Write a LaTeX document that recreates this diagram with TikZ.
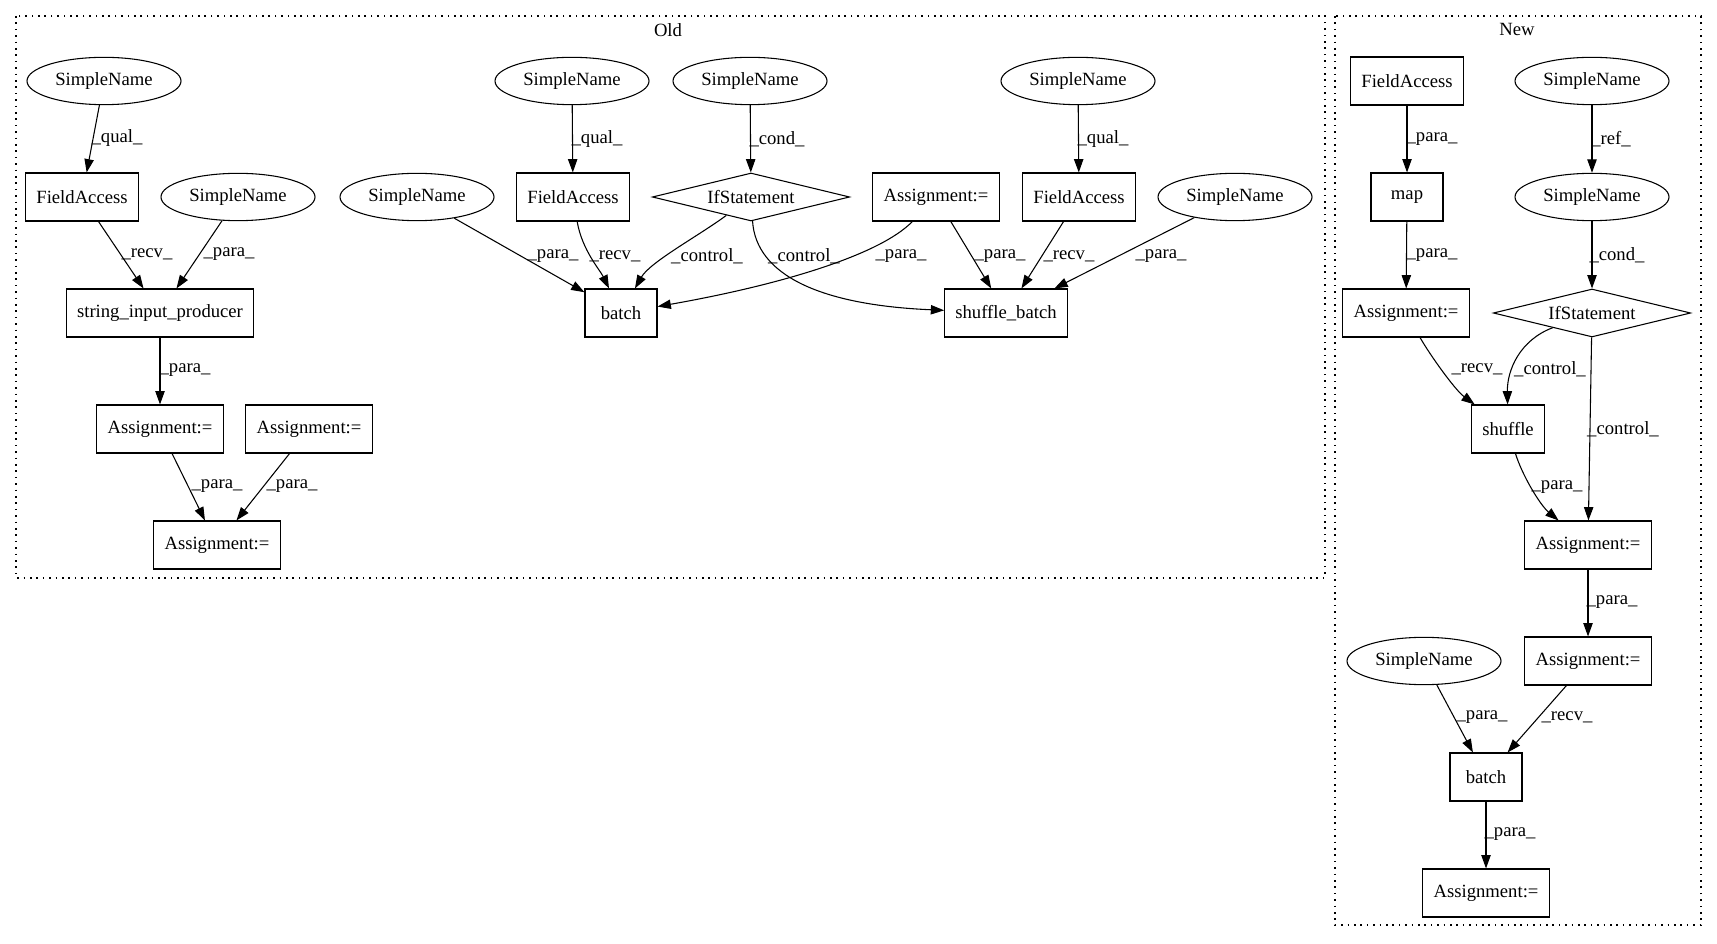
\documentclass[tikz,border=0pt]{standalone}
\usepackage{fontspec}
\setmainfont{Liberation Serif}
\usetikzlibrary{shapes.geometric,arrows.meta}

\begin{document}
\begin{tikzpicture}[x=0.75pt, y=-0.75pt, >={Triangle[length=10pt,width=7pt]},
    font=\fontsize{14}{16}\selectfont,
    sname/.style={draw, ellipse, line width=0.8pt, minimum width=115.5pt, minimum height=35.5pt, inner sep=0pt},
    abox/.style={draw, rectangle, line width=0.8pt, minimum width=54pt, minimum height=36pt, inner xsep=8pt},
    cond/.style={draw, diamond, line width=0.8pt, aspect=4, minimum width=148pt, minimum height=36pt, inner sep=0pt},
    lbl/.style={inner sep=0pt},
    cluster/.style={draw, line width=0.8pt, dash pattern=on 1.2pt off 3.6pt},
    edge/.style={->, line width=0.8pt}]
    \useasboundingbox (0,0) rectangle (1717,944);

    % clusters
    \draw[cluster] (16,16) rectangle (1325,578);
    \node (oldlbl) at (668,30) {Old};
    \draw[cluster] (1335,16) rectangle (1701,925);
    \node (newlbl) at (1517,29) {New};

    % old version
    \node[sname] (sn1) at (104,81) {SimpleName};
    \node[sname] (sn4) at (572,81) {SimpleName};
    \node[sname] (sn5) at (750,81) {SimpleName};
    \node[sname] (sn6) at (1078,81) {SimpleName};
    \node[abox] (fa1) at (82,197) {FieldAccess};
    \node[sname] (sn2) at (238,197) {SimpleName};
    \node[sname] (sn3) at (417,197) {SimpleName};
    \node[abox] (fa2) at (573,197) {FieldAccess};
    \node[cond] (if1) at (751,197) {IfStatement};
    \node[abox] (as4) at (936,197) {Assignment:=};
    \node[abox] (fa3) at (1079,197) {FieldAccess};
    \node[sname] (sn7) at (1235,197) {SimpleName};
    \node[abox] (sip) at (160,313) {string\_input\_producer};
    \node[abox] (batcha) at (621,313) {batch};
    \node[abox] (sbatch) at (1006,313) {shuffle\_batch};
    \node[abox] (as1) at (160,429) {Assignment:=};
    \node[abox] (as2) at (309,429) {Assignment:=};
    \node[abox] (as3) at (217,545) {Assignment:=};

    \draw[edge] (sn1) -- (fa1) node[lbl] at (117,138) {\_qual\_};
    \draw[edge] (fa1) -- (sip) node[lbl] at (147,254) {\_recv\_};
    \draw[edge] (sn2) -- (sip) node[lbl] at (229,254) {\_para\_};
    \draw[edge] (sip) -- (as1) node[lbl] at (185,370) {\_para\_};
    \draw[edge] (as1) -- (as3) node[lbl] at (217,486) {\_para\_};
    \draw[edge] (as2) -- (as3) node[lbl] at (292,486) {\_para\_};
    \draw[edge] (sn4) -- (fa2) node[lbl] at (597,139) {\_qual\_};
    \draw[edge] (sn5) -- (if1) node[lbl] at (777,139) {\_cond\_};
    \draw[edge] (sn6) -- (fa3) node[lbl] at (1103,139) {\_qual\_};
    \draw[edge] (sn3) -- (batcha) node[lbl] at (553,256) {\_para\_};
    \draw[edge] (fa2) .. controls (582,250) and (600,270) .. (batcha) node[lbl] at (615,256) {\_recv\_};
    \draw[edge] (if1) .. controls (700,235) and (650,262) .. (batcha) node[lbl] at (707,256) {\_control\_};
    \draw[edge] (if1) .. controls (756,275) and (820,305) .. (sbatch) node[lbl] at (804,256) {\_control\_};
    \draw[edge] (as4) .. controls (880,255) and (780,285) .. (batcha) node[lbl] at (901,256) {\_para\_};
    \draw[edge] (as4) -- (sbatch) node[lbl] at (1000,256) {\_para\_};
    \draw[edge] (fa3) -- (sbatch) node[lbl] at (1069,256) {\_recv\_};
    \draw[edge] (sn7) -- (sbatch) node[lbl] at (1161,256) {\_para\_};

    % new version
    \node[abox] (fa4) at (1407,81) {FieldAccess};
    \node[sname] (sn8) at (1592,81) {SimpleName};
    \node[abox] (map) at (1407,197) {map};
    \node[sname] (sn9) at (1592,197) {SimpleName};
    \node[abox] (as5) at (1406,313) {Assignment:=};
    \node[cond] (if2) at (1592,313) {IfStatement};
    \node[abox] (shuf) at (1508,429) {shuffle};
    \node[abox] (as6) at (1588,545) {Assignment:=};
    \node[sname] (sn10) at (1424,661) {SimpleName};
    \node[abox] (as7) at (1588,661) {Assignment:=};
    \node[abox] (batchb) at (1486,777) {batch};
    \node[abox] (as8) at (1486,893) {Assignment:=};

    \draw[edge] (fa4) -- (map) node[lbl] at (1432,139) {\_para\_};
    \draw[edge] (sn8) -- (sn9) node[lbl] at (1611,139) {\_ref\_};
    \draw[edge] (map) -- (as5) node[lbl] at (1432,255) {\_para\_};
    \draw[edge] (sn9) -- (if2) node[lbl] at (1617,255) {\_cond\_};
    \draw[edge] (as5) .. controls (1430,355) and (1455,390) .. (shuf) node[lbl] at (1477,369) {\_recv\_};
    \draw[edge] (if2) .. controls (1520,340) and (1507,370) .. (shuf) node[lbl] at (1550,369) {\_control\_};
    \draw[edge] (if2) -- (as6) node[lbl] at (1623,429) {\_control\_};
    \draw[edge] (shuf) .. controls (1522,475) and (1540,505) .. (as6) node[lbl] at (1557,487) {\_para\_};
    \draw[edge] (as6) -- (as7) node[lbl] at (1612,602) {\_para\_};
    \draw[edge] (sn10) -- (batchb) node[lbl] at (1482,717) {\_para\_};
    \draw[edge] (as7) -- (batchb) node[lbl] at (1567,717) {\_recv\_};
    \draw[edge] (batchb) -- (as8) node[lbl] at (1510,834) {\_para\_};
\end{tikzpicture}
\end{document}
